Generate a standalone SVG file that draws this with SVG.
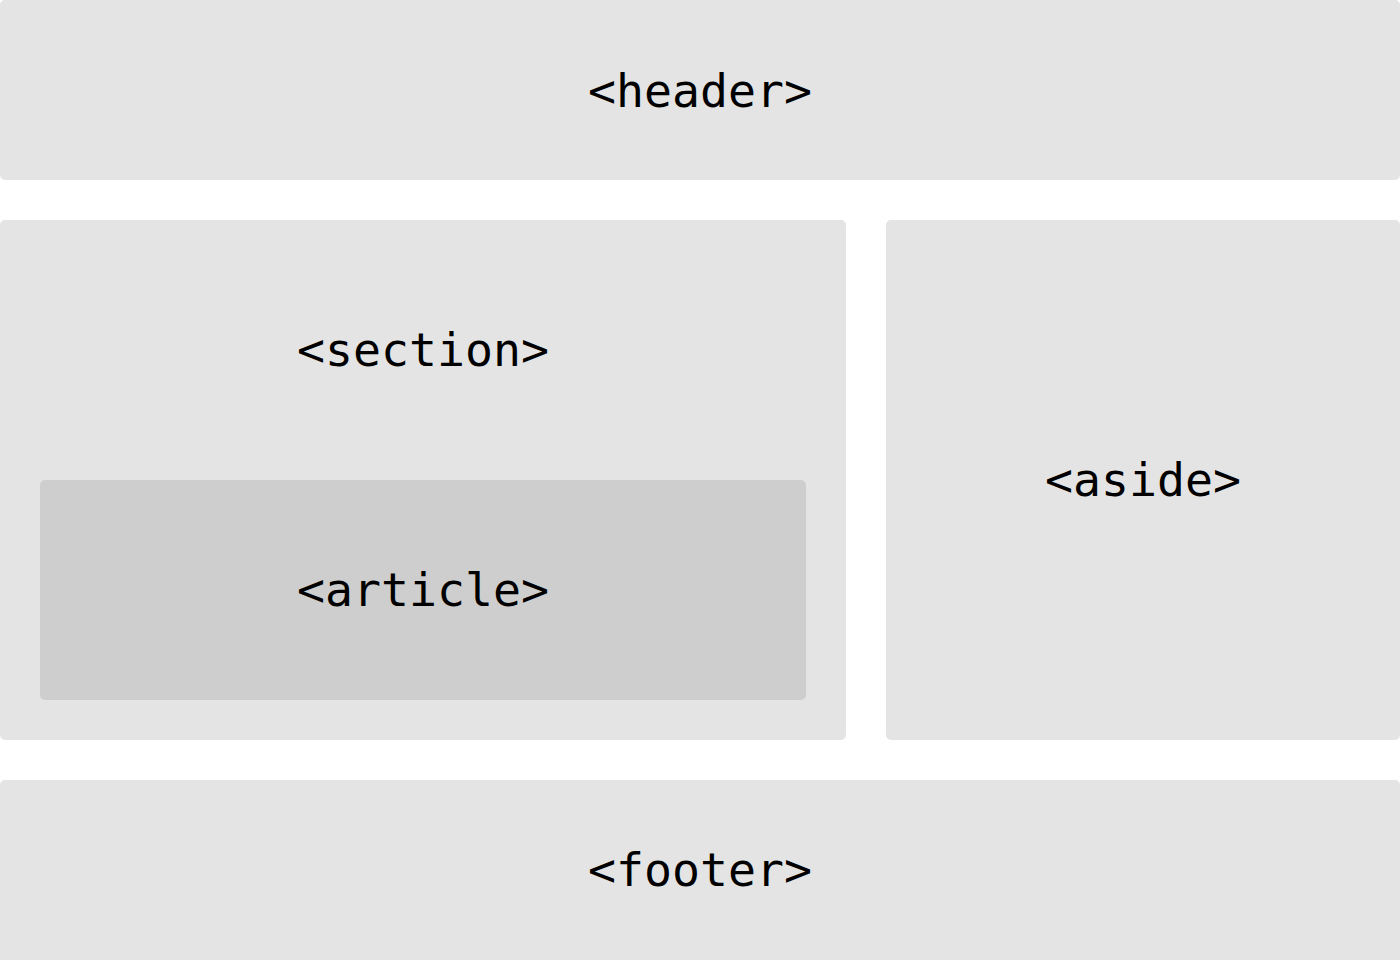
<svg xmlns="http://www.w3.org/2000/svg" width="1400" height="960" viewBox="0 0 1400 960">
<style>
.box{fill:#e4e4e4}
.inner{fill:#cecece}
.lbl{font-family:"DejaVu Sans Mono","Liberation Mono",monospace;font-size:46.5px;fill:#000;text-anchor:middle}
</style>
<rect width="1400" height="960" fill="#ffffff"/>
<g id="header"><rect class="box" x="0" y="0" width="1400" height="180" rx="5"/><text class="lbl" x="700" y="107">&lt;header&gt;</text></g>
<g id="section"><rect class="box" x="0" y="220" width="846" height="520" rx="5"/><text class="lbl" x="423" y="366">&lt;section&gt;</text></g>
<g id="article"><rect class="inner" x="40" y="480" width="766" height="220" rx="5"/><text class="lbl" x="423" y="606">&lt;article&gt;</text></g>
<g id="aside"><rect class="box" x="886" y="220" width="514" height="520" rx="5"/><text class="lbl" x="1143" y="496">&lt;aside&gt;</text></g>
<g id="footer"><rect class="box" x="0" y="780" width="1400" height="185" rx="5"/><text class="lbl" x="700" y="886">&lt;footer&gt;</text></g>
<g id="connectors"/>
</svg>
